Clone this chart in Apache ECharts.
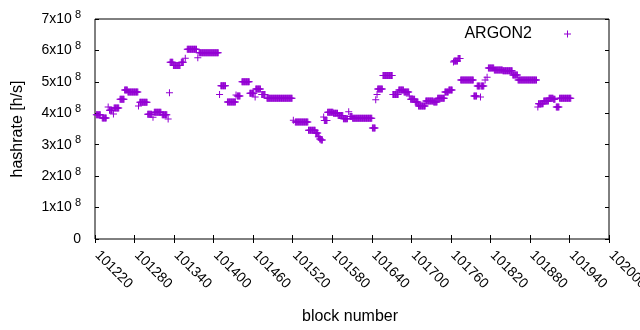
<!DOCTYPE html>
<html>
<head>
<meta charset="utf-8">
<script src="https://cdn.jsdelivr.net/npm/echarts@6/dist/echarts.min.js"></script>
<style>
  html, body { margin: 0; padding: 0; background: #fff; }
  #chart { width: 640px; height: 330px; }
</style>
</head>
<body>
<div id="chart"></div>
<script>
// runs of consecutive blocks sharing one hashrate value
var runStart = [101222, 101231, 101240, 101242, 101248, 101249, 101258, 101265, 101270, 101286,
  101288, 101300, 101308, 101310, 101322, 101331, 101333, 101334, 101339, 101351,
  101357, 101360, 101376, 101378, 101409, 101411, 101421, 101434, 101436, 101443,
  101455, 101463, 101464, 101473, 101481, 101521, 101524, 101544, 101555, 101559,
  101561, 101563, 101567, 101568, 101573, 101582, 101589, 101597, 101605, 101607,
  101611, 101641, 101646, 101648, 101649, 101657, 101672, 101681, 101689, 101697,
  101699, 101706, 101711, 101722, 101734, 101740, 101751, 101757, 101764, 101765,
  101771, 101775, 101795, 101800, 101805, 101806, 101812, 101815, 101817, 101826,
  101839, 101854, 101862, 101892, 101893, 101901, 101909, 101916, 101920, 101925];
var runEnd = [101228, 101237, 101240, 101246, 101248, 101256, 101264, 101269, 101285, 101286,
  101299, 101306, 101308, 101320, 101329, 101331, 101333, 101338, 101349, 101354,
  101357, 101374, 101376, 101407, 101409, 101418, 101433, 101434, 101440, 101454,
  101461, 101463, 101471, 101478, 101519, 101521, 101543, 101554, 101558, 101560,
  101562, 101565, 101567, 101572, 101581, 101588, 101596, 101603, 101605, 101610,
  101640, 101645, 101646, 101648, 101656, 101671, 101680, 101688, 101696, 101697,
  101705, 101710, 101721, 101733, 101739, 101750, 101756, 101762, 101764, 101770,
  101774, 101794, 101799, 101804, 101805, 101810, 101812, 101815, 101825, 101838,
  101853, 101861, 101890, 101892, 101900, 101908, 101915, 101918, 101924, 101942];
var runValue = [3.95e8, 3.85e8, 4.2e8, 4.1e8, 3.98e8, 4.17e8, 4.45e8, 4.74e8, 4.68e8, 4.23e8,
  4.35e8, 3.97e8, 3.87e8, 4.03e8, 3.95e8, 3.82e8, 4.65e8, 5.62e8, 5.52e8, 5.62e8,
  5.75e8, 6.04e8, 5.77e8, 5.93e8, 4.6e8, 4.88e8, 4.36e8, 4.58e8, 4.55e8, 5.0e8,
  4.64e8, 4.52e8, 4.77e8, 4.6e8, 4.48e8, 3.78e8, 3.72e8, 3.46e8, 3.37e8, 3.25e8,
  3.18e8, 3.15e8, 3.88e8, 3.77e8, 4.03e8, 4.0e8, 3.93e8, 3.83e8, 4.05e8, 3.9e8,
  3.84e8, 3.53e8, 4.43e8, 4.6e8, 4.77e8, 5.2e8, 4.6e8, 4.74e8, 4.68e8, 4.55e8,
  4.45e8, 4.36e8, 4.23e8, 4.39e8, 4.36e8, 4.48e8, 4.68e8, 4.74e8, 5.63e8, 5.66e8,
  5.74e8, 5.06e8, 4.55e8, 4.87e8, 4.52e8, 4.87e8, 5.06e8, 5.15e8, 5.44e8, 5.38e8,
  5.35e8, 5.22e8, 5.06e8, 4.2e8, 4.3e8, 4.39e8, 4.48e8, 4.45e8, 4.2e8, 4.48e8];

var xMin = 101220, xMax = 102000, xStep = 60;
var yMin = 0, yMax = 7e8, yStep = 1e8;

var points = [];
for (var i = 0; i < runStart.length; i++) {
  for (var b = runStart[i]; b <= runEnd[i]; b++) {
    points.push([b, runValue[i]]);
  }
}

var font = '"Liberation Sans", Arial, sans-serif';
var plus = 'path://M0,3H3V0H4V3H7V4H4V7H3V4H0Z';

var myChart = echarts.init(document.getElementById('chart'));
myChart.setOption({
  animation: false,
  textStyle: { fontFamily: font },
  grid: {
    left: 95, right: 31, top: 19, bottom: 91,
    outerBoundsMode: 'none',
    show: true, borderColor: '#000', borderWidth: 1
  },
  legend: {
    right: 64, top: 21,
    align: 'right',
    icon: plus,
    itemWidth: 7, itemHeight: 7,
    textStyle: { fontSize: 16, color: '#000', fontFamily: font, padding: [0, 27, 0, 0] },
    data: ['ARGON2']
  },
  xAxis: [{
    type: 'value', min: xMin, max: xMax, interval: xStep,
    name: 'block number', nameLocation: 'middle', nameGap: 70,
    nameTextStyle: { fontSize: 16, color: '#000', fontFamily: font, padding: [0, 4, 0, 0] },
    axisLine: { show: false },
    axisTick: { inside: true, length: 4, lineStyle: { color: '#000' } },
    splitLine: { show: false },
    axisLabel: {
      rotate: -45, margin: 12, fontSize: 14, color: '#000', fontFamily: font,
      padding: [0, 0, 0, 3],
      showMaxLabel: true, showMinLabel: true,
      formatter: function (v) { return String(v); }
    }
  }, {
    type: 'value', position: 'top', min: xMin, max: xMax, interval: xStep,
    axisLine: { show: false },
    axisTick: { inside: true, length: 4, lineStyle: { color: '#000' } },
    axisLabel: { show: false }, splitLine: { show: false }
  }],
  yAxis: [{
    type: 'value', min: yMin, max: yMax, interval: yStep,
    name: 'hashrate [h/s]', nameLocation: 'middle', nameGap: 69,
    nameTextStyle: { fontSize: 16, color: '#000', fontFamily: font },
    axisLine: { show: false },
    axisTick: { inside: true, length: 4, lineStyle: { color: '#000' } },
    splitLine: { show: false },
    axisLabel: {
      margin: 14, color: '#000', fontSize: 14, fontFamily: font,
      formatter: function (v) {
        return v === 0 ? '{m|0}' : '{m|' + Math.round(v / 1e8) + 'x10}{e| 8}';
      },
      rich: {
        m: { fontSize: 14, color: '#000', fontFamily: font },
        e: { fontSize: 11, color: '#000', fontFamily: font, padding: [0, 0, 9, 0] }
      }
    }
  }, {
    type: 'value', position: 'right', min: yMin, max: yMax, interval: yStep,
    axisLine: { show: false },
    axisTick: { inside: true, length: 4, lineStyle: { color: '#000' } },
    axisLabel: { show: false }, splitLine: { show: false }
  }],
  series: [{
    name: 'ARGON2',
    type: 'scatter',
    symbol: plus,
    symbolSize: 7,
    itemStyle: { color: '#9400d3', opacity: 1 },
    emphasis: { disabled: true },
    data: points
  }]
});
</script>
</body>
</html>
